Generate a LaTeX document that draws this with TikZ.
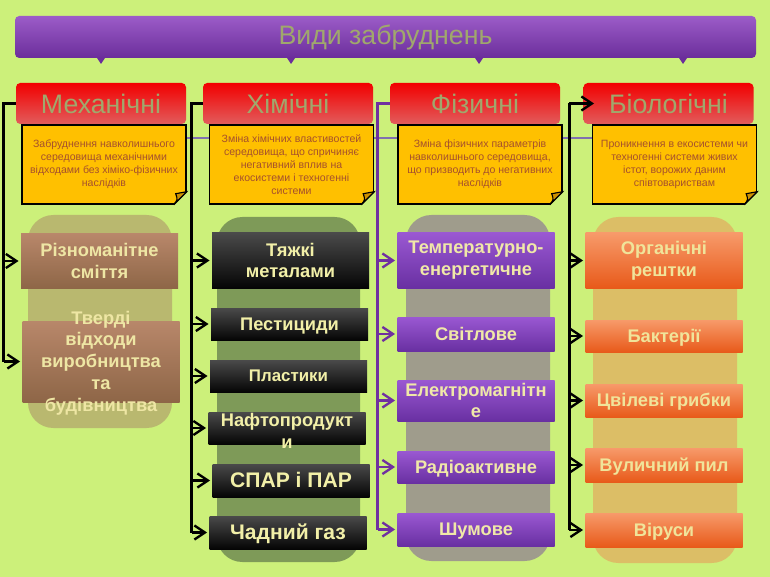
\documentclass[tikz,border=0pt]{standalone}
\usepackage{fontspec}
\setmainfont{Liberation Sans}
\usetikzlibrary{calc,arrows.meta}

\begin{document}
\begin{tikzpicture}[x=0.025cm,y=-0.025cm,
  conn/.style={line width=2.1pt,black},
  pconn/.style={line width=2.1pt,vz_line},
  branch/.style={line width=1.7pt},
  arrowtip/.style={-{Straight Barb[length=7.5pt,width=10pt]},shorten >=1.5pt},
  titlebar/.style={rounded corners=3pt,top color=vz_ttop,bottom color=vz_tbot,minimum width=741*\pxu,minimum height=42*\pxu,inner sep=0pt,text=vz_olive,font=\fontsize{19}{22}\selectfont},
  hdbox/.style={rounded corners=3pt,top color=vz_rtop,bottom color=vz_rbot,minimum width=170*\pxu,minimum height=41*\pxu,inner sep=0pt,text=vz_olive,font=\fontsize{19}{22}\selectfont},
  notebox/.style={fill=vz_note,draw=black,line width=1pt,minimum width=164*\pxu,minimum height=79*\pxu,inner sep=0pt,align=center,text=vz_ntxt,font=\fontsize{7.5}{9.2}\selectfont},
  subbox/.style={minimum width=157*\pxu,inner sep=0pt,align=center,font=\bfseries\fontsize{13}{15.5}\selectfont},
  oneline/.style={text height=9pt,text depth=0pt},
  mbox/.style={subbox,top color=vz_mtop,bottom color=vz_mbot,text=vz_mtxt},
  cbox/.style={subbox,top color=vz_ctop,bottom color=vz_cbot,text=vz_ctxt},
  pbox/.style={subbox,top color=vz_ptop,bottom color=vz_pbot,text=vz_ptxt},
  obox/.style={subbox,top color=vz_otop,bottom color=vz_obot,text=vz_otxt},
  bigtxt/.style={font=\bfseries\fontsize{15}{18}\selectfont,text height=10.5pt,text depth=0pt}
]
\definecolor{vz_bg}{RGB}{204,240,122}    %#CCF07A
\definecolor{vz_ttop}{RGB}{156,92,200}
\definecolor{vz_tbot}{RGB}{107,46,155}
\definecolor{vz_olive}{RGB}{160,168,108}
\definecolor{vz_rtop}{RGB}{242,0,0}
\definecolor{vz_rbot}{RGB}{226,92,92}
\definecolor{vz_note}{RGB}{255,192,0}    %#FFC000
\definecolor{vz_fold}{RGB}{205,145,0}
\definecolor{vz_ntxt}{RGB}{165,80,45}
\definecolor{vz_hline}{RGB}{128,112,176}
\definecolor{vz_line}{RGB}{112,48,160}   %#7030A0
\definecolor{vz_mbg}{RGB}{185,184,111}
\definecolor{vz_cbg}{RGB}{126,154,88}
\definecolor{vz_pbg}{RGB}{159,156,140}
\definecolor{vz_obg}{RGB}{220,190,102}
\definecolor{vz_mtop}{RGB}{184,135,106}
\definecolor{vz_mbot}{RGB}{142,102,71}
\definecolor{vz_mtxt}{RGB}{238,230,164}
\definecolor{vz_ctop}{RGB}{74,74,74}
\definecolor{vz_cbot}{RGB}{5,5,5}
\definecolor{vz_ctxt}{RGB}{242,240,168}
\definecolor{vz_ptop}{RGB}{154,88,210}
\definecolor{vz_pbot}{RGB}{105,48,162}
\definecolor{vz_ptxt}{RGB}{240,232,168}
\definecolor{vz_otop}{RGB}{247,154,106}
\definecolor{vz_obot}{RGB}{232,90,26}
\definecolor{vz_otxt}{RGB}{240,228,154}

\def\pxu{0.025cm}

\fill [vz_bg] (0,0) rectangle (770,577);
\useasboundingbox (0,0) rectangle (770,577);

\draw [vz_hline,line width=1.2pt] (22,138) -- (756,138);

\fill [vz_mbg,rounded corners=18] (28,215) rectangle (172,428);
\fill [vz_cbg,rounded corners=18] (217,217) rectangle (360,562);
\fill [vz_pbg,rounded corners=18] (406,215) rectangle (550,561);
\fill [vz_obg,rounded corners=18] (593,217) rectangle (737,563);

\node [titlebar] (ttl) at (385.5,37) {Види забруднень};
\foreach \x in {101,291,479,683}
  \fill [vz_tbot] (\x-4,58) -- (\x+4,58) -- (\x,64) -- cycle;

\node [hdbox] (mech) at (101,103.5) {Механічні};
\node [hdbox] (chem) at (288,103.5) {Хімічні};
\node [hdbox] (phys) at (475,103.5) {Фізичні};
\node [hdbox] (bio)  at (668.5,103.5) {Біологічні};

\node [notebox] (nm) at (104,164.5) {Забруднення навколишнього\\середовища механічними\\відходами без хіміко-фізичних\\наслідків};
\node [notebox] (nc) at (291.5,164.5) {Зміна хімічних властивостей\\середовища, що спричиняє\\негативний вплив на\\екосистеми і техногенні\\системи};
\node [notebox] (np) at (480,164.5) {Зміна фізичних параметрів\\навколишнього середовища,\\що призводить до негативних\\наслідків};
\node [notebox] (nb) at (674.5,164.5) {Проникнення в екосистеми чи\\техногенні системи живих\\істот, ворожих даним\\співтовариствам};

\foreach \n in {nm,nc,np,nb} {
  \fill [vz_bg] ($(\n.south east)+(-13,0.8)$) -- ($(\n.south east)+(0.8,0.8)$) -- ($(\n.south east)+(0.8,-13)$) -- cycle;
  \draw [black,line width=1pt] ($(\n.south east)+(-13,0)$) -- ($(\n.south east)+(0,-13)$);
  \filldraw [fill=vz_fold,draw=black,line width=0.8pt] ($(\n.south east)+(-13,0)$) .. controls ($(\n.south east)+(-9,-5)$) .. ($(\n.south east)+(-11,-11)$) -- ($(\n.south east)+(0,-13)$) -- cycle;
}

% mechanical
\node [mbox,minimum height=54*\pxu] (m1) at (99.5,261) {Різноманітне\\сміття};
\node [mbox,minimum height=81*\pxu] (m2) at (101,361.5) {};
\node [subbox,text=vz_mtxt] (m2t) at (101,363) {Тверді\\відходи\\виробництва\\та\\будівництва};

% chemical
\node [cbox,minimum height=55*\pxu] (c1) at (290.5,260.5) {Тяжкі\\металами};
\node [cbox,oneline,minimum height=32*\pxu] (c2) at (289.5,324) {Пестициди};
\node [cbox,minimum height=32*\pxu,font=\bfseries\fontsize{12}{14}\selectfont,text height=8.5pt,text depth=0pt] (c3) at (288.5,376) {Пластики};
\node [cbox,minimum height=32*\pxu] (c4) at (287,428) {};
\node [subbox,text=vz_ctxt] (c4t) at (287,431) {Нафтопродукт\\и};
\node [cbox,bigtxt,minimum height=33*\pxu] (c5) at (291,480.5) {СПАР і ПАР};
\node [cbox,bigtxt,minimum height=33*\pxu] (c6) at (288,532.5) {Чадний газ};

% physical
\node [pbox,minimum height=55*\pxu] (p1) at (476,260.5) {Температурно-\\енергетичне};
\node [pbox,oneline,minimum height=34*\pxu] (p2) at (476,334) {Світлове};
\node [pbox,minimum height=41*\pxu] (p3) at (476,400.5) {Електромагнітн\\е};
\node [pbox,oneline,minimum height=32*\pxu] (p4) at (476,467) {Радіоактивне};
\node [pbox,oneline,minimum height=33*\pxu] (p5) at (476,529.5) {Шумове};

% biological
\node [obox,minimum height=55*\pxu] (o1) at (664,260.5) {Органічні\\рештки};
\node [obox,oneline,minimum height=32*\pxu] (o2) at (664,336) {Бактерії};
\node [obox,oneline,minimum height=33*\pxu] (o3) at (664,400.5) {Цвілеві грибки};
\node [obox,oneline,minimum height=34*\pxu] (o4) at (664,465) {Вуличний пил};
\node [obox,oneline,minimum height=34*\pxu] (o5) at (664,530) {Віруси};

\draw [conn] (mech.west) -- ++(-12,0) coordinate (mt) -- (mt |- m2.west);
\foreach \b in {m1,m2}
  \draw [conn,branch,arrowtip] (mt |- \b.west) -- (\b.west);

\draw [conn] (chem.west) -- ++(-11,0) coordinate (ct) -- (ct |- c6.west);
\foreach \b in {c1,c2,c3,c4,c5,c6}
  \draw [conn,branch,arrowtip] (ct |- \b.west) -- (\b.west);

\draw [pconn] (phys.west) -- ++(-12,0) coordinate (pt) -- (pt |- p5.west);
\foreach \b in {p1,p2,p3,p4,p5}
  \draw [pconn,branch,arrowtip] (pt |- \b.west) -- (\b.west);

\draw [conn] ($(bio.west)+(-14,0)$) coordinate (bt) -- (bt |- o5.west);
\foreach \b in {o1,o2,o3,o4,o5}
  \draw [conn,branch,arrowtip] (bt |- \b.west) -- (\b.west);
\draw [conn,branch,arrowtip] (bt) -- ($(bio.west)+(13,0)$);

\end{tikzpicture}
\end{document}
